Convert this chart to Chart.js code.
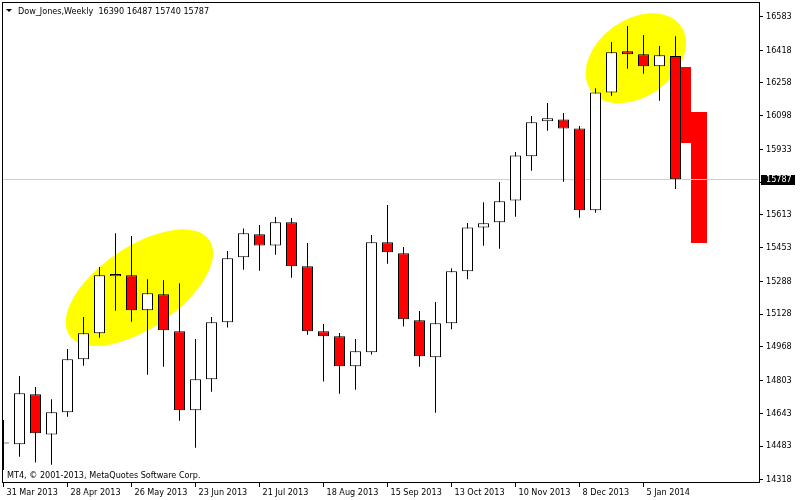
<!DOCTYPE html>
<html><head><meta charset="utf-8">
<script src="https://cdn.jsdelivr.net/npm/chart.js@4.4.1/dist/chart.umd.min.js"></script>
<style>html,body{margin:0;padding:0;background:#fff;}canvas{display:block;}</style>
</head><body>
<canvas id="c" width="800" height="500"></canvas>
<script>
// ---- data (weekly candles, first candle = week of 31 Mar 2013) ----
const symbolTitle = 'Dow_Jones,Weekly';
const copyrightText = 'MT4, \u00A9 2001-2013, MetaQuotes Software Corp.';
const opens  = [14495,14492,14736,14540,14648,14907,15034,15313,15318,15147,15225,15044,14658,14809,15088,15406,15518,15464,15577,15362,15044,15020,14873,14941,15479,15425,15098,14917,15083,15337,15552,15577,15684,15900,16071,16080,16036,15636,16212,16413,16398,16340,16390];
const highs  = [14610,14825,14772,14712,14957,15114,15358,15523,15510,15298,15293,15279,15006,15114,15437,15546,15564,15603,15598,15476,15080,15036,15006,15515,15661,15456,15143,15187,15352,15573,15675,15774,15921,16097,16160,16111,16048,16232,16458,16537,16493,16439,16487];
const lows   = [14366,14431,14402,14392,14626,14876,15013,15145,15091,14832,14871,14607,14475,14749,15062,15345,15340,15418,15306,15027,14798,14739,14758,14930,15374,15068,14871,14646,15054,15298,15462,15448,15604,15829,16025,15775,15599,15624,16196,16328,16303,16171,15740];
const closes = [14500,14741,14545,14648,14907,15034,15318,15324,15147,15230,15049,14658,14809,15088,15401,15523,15464,15577,15362,15044,15020,14873,14946,15479,15430,15103,14922,15083,15337,15552,15572,15680,15904,16066,16085,16036,15636,16212,16408,16398,16340,16393,15787];
const dateTickWeeks  = [0,4,8,12,16,20,24,28,32,36,40];
const dateTickLabels = ['31 Mar 2013','28 Apr 2013','26 May 2013','23 Jun 2013','21 Jul 2013','18 Aug 2013','15 Sep 2013','13 Oct 2013','10 Nov 2013','8 Dec 2013','5 Jan 2014'];
const priceTicks = [16583,16418,16258,16098,15933,15773,15613,15453,15288,15128,14968,14803,14643,14483,14318];
// projected red blocks (week range, price range)
const projFrom = [42.34, 42.97];
const projTo   = [42.97, 43.97];
const projHigh = [16336, 16116];
const projLow  = [15966, 15474];
// highlighted zones (centre week, centre price)
const highlightWeek  = [8.49, 39.52];
const highlightPrice = [15257, 16379];

// ---- styles ----
const ellipseShape = [{rx:84.7, ry:40.8, rot:-34.2},{rx:55.4, ry:38.5, rot:-35.9}];
const FONT_FAMILY = "'DejaVu Sans Condensed', 'Liberation Sans', sans-serif";
const font = {family: FONT_FAMILY, size: 9};

const idx = opens.map((_, i) => i);
const bodyData = idx.map(i => ({x: i, y: [opens[i], closes[i]]}));
const wickData = idx.map(i => ({x: i, y: [lows[i], highs[i]]}));
const bodyColors = idx.map(i => closes[i] < opens[i] ? '#ff0000' : '#ffffff');

const overlay = {
  id: 'overlay',
  beforeDatasetsDraw(chart) {
    const {ctx, chartArea: a, scales: {x, y}} = chart;
    ctx.save();
    ctx.beginPath(); ctx.rect(a.left, a.top, a.right - a.left, a.bottom - a.top); ctx.clip();
    ctx.fillStyle = '#ffff00';
    highlightWeek.forEach((w, k) => {
      const s = ellipseShape[k];
      ctx.beginPath();
      ctx.ellipse(x.getPixelForValue(w), y.getPixelForValue(highlightPrice[k]), s.rx, s.ry, s.rot * Math.PI / 180, 0, Math.PI * 2);
      ctx.fill();
    });
    ctx.fillStyle = '#ff0000';
    projFrom.forEach((f, k) => {
      const x0 = Math.round(x.getPixelForValue(f)), x1 = Math.round(x.getPixelForValue(projTo[k]));
      const y0 = Math.round(y.getPixelForValue(projHigh[k])), y1 = Math.round(y.getPixelForValue(projLow[k]));
      ctx.fillRect(x0, y0, x1 - x0, y1 - y0);
    });
    const ly = Math.floor(y.getPixelForValue(closes[closes.length - 1])) + 0.5;
    ctx.strokeStyle = '#d0d0d0'; ctx.lineWidth = 1;
    ctx.beginPath(); ctx.moveTo(a.left, ly); ctx.lineTo(a.right, ly); ctx.stroke();
    ctx.restore();
  },
  afterDraw(chart) {
    const {ctx, chartArea: a, scales: {y}} = chart;
    ctx.save();
    ctx.strokeStyle = '#000'; ctx.lineWidth = 1;
    ctx.strokeRect(a.left + 0.5, a.top + 0.5, a.right - a.left - 1, a.bottom - a.top - 1);
    ctx.fillStyle = '#000';
    ctx.beginPath(); ctx.moveTo(6, 9); ctx.lineTo(12, 9); ctx.lineTo(9, 12); ctx.closePath(); ctx.fill();
    ctx.font = '9px ' + FONT_FAMILY;
    ctx.textBaseline = 'alphabetic'; ctx.textAlign = 'left';
    const n = opens.length - 1;
    ctx.fillText(symbolTitle + '  ' + [opens[n], highs[n], lows[n], closes[n]].join(' '), 18, 14);
    ctx.fillText(copyrightText, 7, 478);
    // last price box
    const ly = Math.floor(y.getPixelForValue(closes[n])) + 0.5;
    ctx.fillStyle = '#000';
    ctx.fillRect(a.right + 1, Math.round(ly - 5), 34, 10);
    ctx.fillStyle = '#fff';
    ctx.textBaseline = 'middle';
    ctx.fillText(String(closes[n]), a.right + 6, ly + 0.5);
    ctx.restore();
  }
};

const noPad = s => { s.paddingTop = 0; s.paddingBottom = 0; s.paddingLeft = 0; s.paddingRight = 0; };

new Chart(document.getElementById('c').getContext('2d'), {
  type: 'bar',
  data: {
    datasets: [
      {label: 'body', data: bodyData, backgroundColor: bodyColors, borderColor: '#000', borderWidth: 1,
       borderSkipped: false, barThickness: 11, grouped: false, order: 1, clip: 0, inflateAmount: 0},
      {label: 'wick', data: wickData, backgroundColor: '#000', borderWidth: 0,
       barThickness: 1, grouped: false, order: 2, clip: 0, inflateAmount: 0}
    ]
  },
  options: {
    responsive: false, animation: false, devicePixelRatio: 1,
    layout: {padding: {left: 2, top: 2, right: 0, bottom: 0}},
    plugins: {legend: {display: false}, tooltip: {enabled: false}},
    scales: {
      x: {
        type: 'linear', min: -0.09375, max: 47.28125, offset: false,
        afterBuildTicks: s => { s.ticks = dateTickWeeks.map(v => ({value: v})); },
        afterFit: s => { s.height = 17; noPad(s); },
        grid: {offset: false, drawOnChartArea: false, drawTicks: true, tickLength: 4, color: '#000'},
        border: {display: false},
        ticks: {autoSkip: false, maxRotation: 0, minRotation: 0, align: 'start', labelOffset: 3, padding: 0,
                color: '#000', font: font, callback: (v, i) => dateTickLabels[i]}
      },
      y: {
        type: 'linear', position: 'right', min: 14302.3, max: 16653.9,
        afterBuildTicks: s => { s.ticks = priceTicks.map(v => ({value: v})); },
        afterFit: s => { s.width = 40; noPad(s); },
        grid: {drawOnChartArea: false, drawTicks: true, tickLength: 3, color: '#000'},
        border: {display: false},
        ticks: {padding: 3, color: '#000', font: font, callback: v => String(v)}
      }
    }
  },
  plugins: [overlay]
});
</script>
</body></html>
